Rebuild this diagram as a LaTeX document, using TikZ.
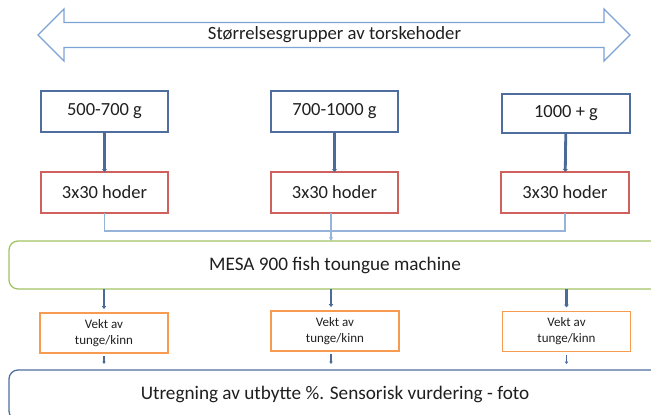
\documentclass[tikz,border=0pt]{standalone}
\usepackage{fontspec}
\setmainfont{Carlito}
\usetikzlibrary{arrows.meta,positioning,calc}

\definecolor{sizeblue}{RGB}{79,110,158}
\definecolor{headred}{RGB}{206,96,94}
\definecolor{mesagreen}{RGB}{160,195,100}
\definecolor{vektorange}{RGB}{247,155,80}
\definecolor{bandblue}{RGB}{125,162,212}
\definecolor{feedblue}{RGB}{150,180,218}
\definecolor{flowblue}{RGB}{76,106,152}

\begin{document}
\begin{tikzpicture}[x=1pt, y=-1pt, >=Stealth,
  node distance=40pt and 103pt,
  every node/.style={outer sep=0pt, text=black!88},
  sizebox/.style={draw=sizeblue, line width=1.2pt, minimum width=127pt, minimum height=41pt, font=\fontsize{18.5}{21}\selectfont},
  headbox/.style={sizebox, draw=headred},
  vektbox/.style={draw=vektorange, line width=1.4pt, minimum width=128pt, minimum height=40pt, align=center, font=\fontsize{13}{16}\selectfont},
  widebox/.style={draw, rounded corners=9pt, line width=1.3pt, minimum width=652pt, font=\fontsize{19.2}{22}\selectfont},
  thickflow/.style={->, draw=flowblue, line width=2.8pt, -{Triangle[length=3pt,width=5pt]}},
  feed/.style={draw=feedblue, line width=1.6pt},
  midflow/.style={draw=flowblue, line width=2.2pt, -{Triangle[length=3pt,width=4.5pt]}, shorten >=4pt},
  lowflow/.style={draw=flowblue, line width=1.4pt, -{Triangle[length=2.5pt,width=3.5pt]}, shorten <=3pt, shorten >=6pt}]
  \useasboundingbox (0,0) rectangle (651,415);

  % size band
  \draw[bandblue, line width=1.3pt, line join=miter]
    (38,35) -- (64,9) -- (64,22.5) -- (604,22.5) -- (604,9) -- (630,35)
    -- (604,61) -- (604,47.5) -- (64,47.5) -- (64,61) -- cycle;
  \node[font=\fontsize{18.7}{21}\selectfont] (band) at (334.5,35) {Størrelsesgrupper av torskehoder};

  % size groups
  \node[sizebox] (size1) at (104.5,111.5) {500-700 g};
  \node[sizebox, right=of size1] (size2) {700-1000 g};
  \node[sizebox, minimum width=128pt, minimum height=39pt] (size3) at (566,113.5) {1000 + g};

  \node[headbox, below=of size1] (head1) {3x30 hoder};
  \node[headbox, right=of head1] (head2) {3x30 hoder};
  \node[headbox, minimum width=128pt, right=of head2] (head3) {3x30 hoder};

  \node[widebox, draw=mesagreen, minimum height=48pt] (mesa) at (335,265) {MESA 900 fish toungue machine};

  \node[vektbox] (vekt1) at (104,333) {Vekt av\\tunge/kinn};
  \node[vektbox] (vekt2) at (335,331) {Vekt av\\tunge/kinn};
  \node[vektbox] (vekt3) at (566.5,331.5) {Vekt av\\tunge/kinn};

  \node[widebox, draw=sizeblue, minimum height=50pt, text depth=4pt] (result) at (335,395) {Utregning av utbytte \%. Sensorisk vurdering - foto};

  \coordinate (join) at (331,231);

  \draw[thickflow] (size1) -- (head1);
  \draw[thickflow] (size2) -- (head2);
  \draw[thickflow] (size3) -- (head3);

  \draw[feed] (head1.south) |- (join) -| (head3.south);
  \draw[feed, ->, -{Stealth[length=4pt,width=4pt]}] (head2.south -| join) -- (join |- mesa.north);

  \draw[midflow] (mesa.south -| vekt1.north) -- (vekt1.north);
  \draw[midflow] (mesa.south -| join) -- (join |- vekt2.north);
  \draw[midflow] (mesa.south -| vekt3.north) -- (vekt3.north);

  \draw[lowflow] (vekt1.south) -- (vekt1.south |- result.north);
  \draw[lowflow] (vekt2.south -| join) -- (join |- result.north);
  \draw[lowflow] (vekt3.south) -- (vekt3.south |- result.north);
\end{tikzpicture}
\end{document}
